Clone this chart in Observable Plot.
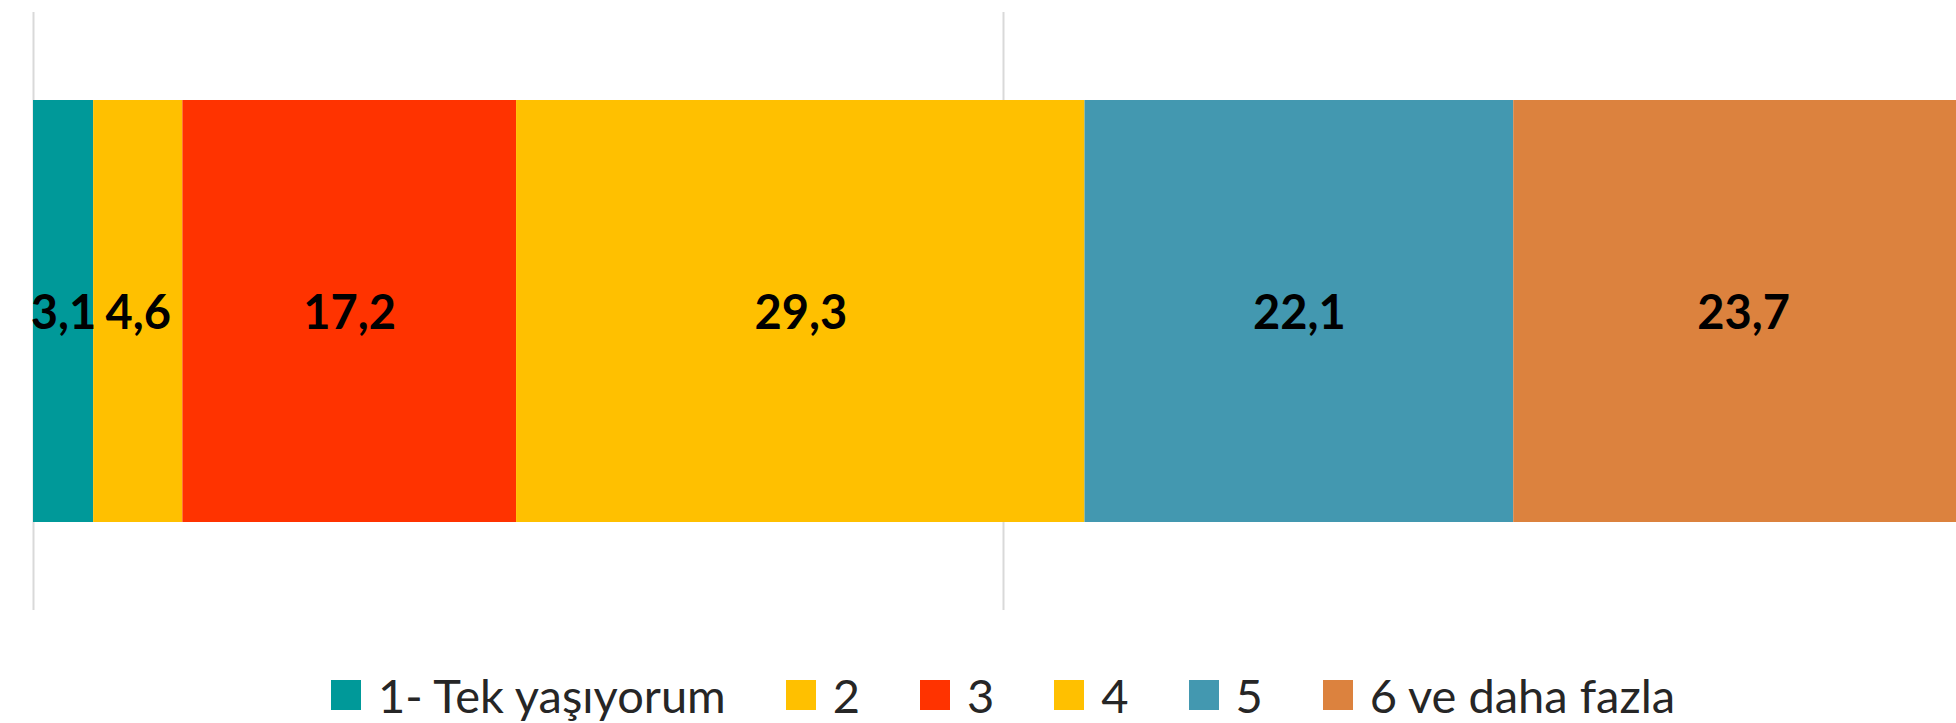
<!DOCTYPE html>
<html>
<head>
<meta charset="utf-8">
<script src="https://cdn.jsdelivr.net/npm/d3@7"></script>
<script src="https://cdn.jsdelivr.net/npm/@observablehq/plot@0.6"></script>
<style>
  html, body { margin: 0; padding: 0; background: #fff; overflow: hidden; }
  #chart { width: 1956px; }
  #legend {
    display: flex; justify-content: center; align-items: center;
    height: 96px; padding-left: 50px; box-sizing: border-box; width: 1956px;
    font-family: Lato, "Noto Sans", sans-serif; font-size: 47px; color: #262626;
    gap: 60px; margin-top: -3px;
  }
  .item { display: flex; align-items: center; gap: 17px; white-space: nowrap; }
  .sw { width: 30px; height: 30px; display: inline-block; }
</style>
</head>
<body>
<div id="chart"></div>
<div id="legend"></div>
<script>
const categories = ["1- Tek yaşıyorum", "2", "3", "4", "5", "6 ve daha fazla"];
const values = [3.1, 4.6, 17.2, 29.3, 22.1, 23.7];
const colors = ["#009999", "#FFC000", "#FF3300", "#FFC000", "#4398B0", "#DC823E"];
const gridTicks = [0, 50];

const data = categories.map((c, i) => ({category: c, value: values[i], row: "all"}));
const fmt = v => v.toFixed(1).replace(".", ",");

const chart = Plot.plot({
  width: 1956,
  height: 650,
  marginTop: 12,
  marginBottom: 40,
  marginLeft: 33,
  marginRight: 0,
  x: {domain: [0, 100], range: [33, 1973], axis: null},
  y: {domain: ["all"], padding: 0.1725, axis: null},
  color: {domain: categories, range: colors},
  marks: [
    Plot.ruleX(gridTicks, {stroke: "#d9d9d9", strokeWidth: 2}),
    Plot.barX(data, Plot.stackX({x: "value", y: "row", fill: "category", order: null})),
    Plot.text(data, Plot.stackX({
      x: "value", y: "row", order: null,
      text: d => fmt(d.value),
      fill: "#000", fontSize: 47, fontWeight: "bold",
      fontFamily: "Lato, 'Noto Sans', sans-serif",
      dy: 2
    }))
  ]
});
chart.style.overflow = "hidden";
document.getElementById("chart").appendChild(chart);

const legend = document.getElementById("legend");
categories.forEach((c, i) => {
  const item = document.createElement("div");
  item.className = "item";
  const sw = document.createElement("span");
  sw.className = "sw";
  sw.style.background = colors[i];
  const t = document.createElement("span");
  t.textContent = c;
  item.appendChild(sw);
  item.appendChild(t);
  legend.appendChild(item);
});
</script>
</body>
</html>
